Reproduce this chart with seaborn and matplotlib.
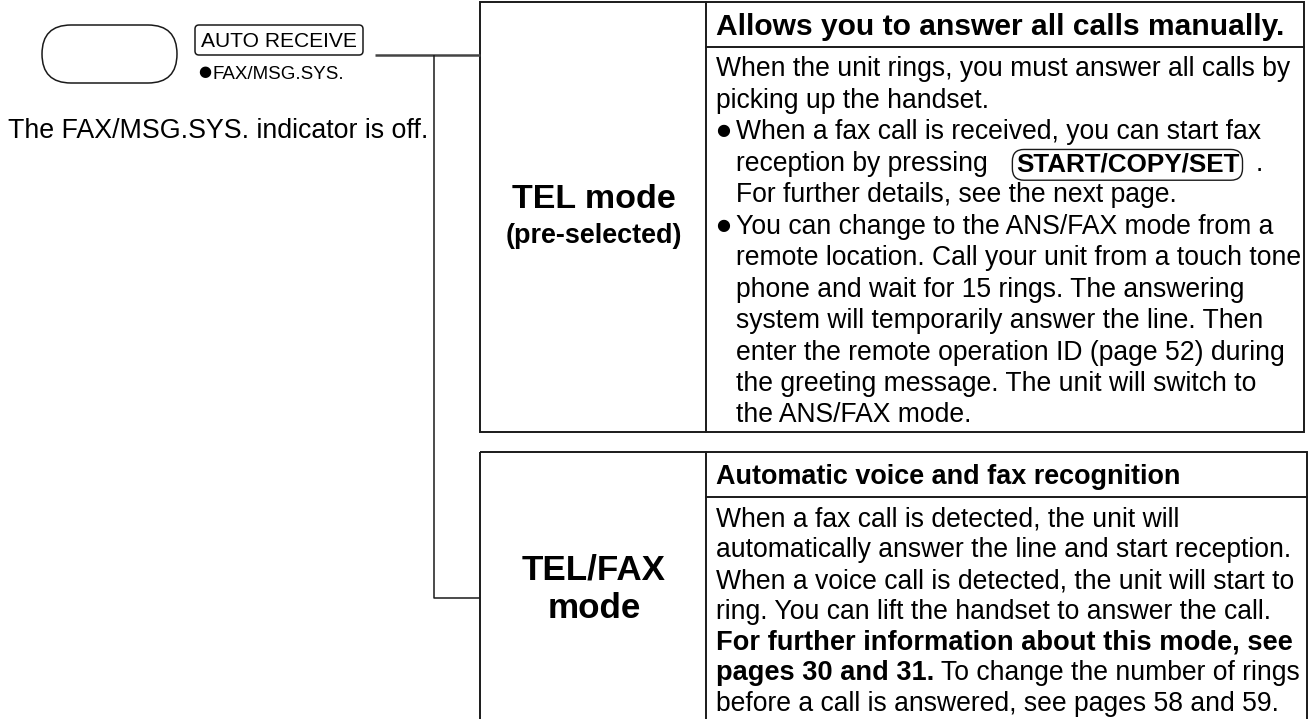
import matplotlib
matplotlib.use("Agg")
import matplotlib.pyplot as plt
import seaborn as sns
from matplotlib.patches import FancyBboxPatch, Rectangle

# ---------------- content ----------------
button_label = "AUTO RECEIVE"
indicator_label = "FAX/MSG.SYS."
status_text = "The FAX/MSG.SYS. indicator is off."

mode_titles = [["TEL mode", "(pre-selected)"], ["TEL/FAX", "mode"]]
headers = ["Allows you to answer all calls manually.",
           "Automatic voice and fax recognition"]

# each line: (kind, [(text, style), ...]); kind: plain / bullet / indent
tel_lines = [
    ("plain", [("When the unit rings, you must answer all calls by", "n")]),
    ("plain", [("picking up the handset.", "n")]),
    ("bullet", [("When a fax call is received, you can start fax", "n")]),
    ("indent", [("reception by pressing", "n"), ("START/COPY/SET", "key"), (".", "n")]),
    ("indent", [("For further details, see the next page.", "n")]),
    ("bullet", [("You can change to the ANS/FAX mode from a", "n")]),
    ("indent", [("remote location. Call your unit from a touch tone", "n")]),
    ("indent", [("phone and wait for 15 rings. The answering", "n")]),
    ("indent", [("system will temporarily answer the line. Then", "n")]),
    ("indent", [("enter the remote operation ID (page 52) during", "n")]),
    ("indent", [("the greeting message. The unit will switch to", "n")]),
    ("indent", [("the ANS/FAX mode.", "n")]),
]
telfax_lines = [
    ("plain", [("When a fax call is detected, the unit will", "n")]),
    ("plain", [("automatically answer the line and start reception.", "n")]),
    ("plain", [("When a voice call is detected, the unit will start to", "n")]),
    ("plain", [("ring. You can lift the handset to answer the call.", "n")]),
    ("plain", [("For further information about this mode, see", "b")]),
    ("plain", [("pages 30 and 31.", "b"), (" To change the number of rings", "n")]),
    ("plain", [("before a call is answered, see pages 58 and 59.", "n")]),
]

# ---------------- figure ----------------
sns.set_theme(style="white")
plt.rcParams["font.family"] = ["Liberation Sans", "DejaVu Sans"]

W, H, DPI = 1313, 719, 100
PT = 72.0 / DPI  # points per pixel

fig = plt.figure(figsize=(W / DPI, H / DPI), dpi=DPI)
ax = fig.add_axes([0, 0, 1, 1])
ax.set_xlim(0, W)
ax.set_ylim(H, 0)
ax.axis("off")

LC = "#1a1a1a"
LW = 1.4
DOT = dict(family=["DejaVu Sans"], color="black")

# left panel: button drawing
ax.add_patch(FancyBboxPatch((42, 25), 135, 58, boxstyle="round,pad=0,rounding_size=29",
                            fc="white", ec=LC, lw=1.1))
ax.add_patch(FancyBboxPatch((195, 25), 168, 30, boxstyle="round,pad=0,rounding_size=4",
                            fc="white", ec=LC, lw=1.1))
ax.text(279, 47, button_label, ha="center", va="baseline", fontsize=21 * PT, color="black")
ax.text(198, 72, "\u25CF", ha="left", va="center", fontsize=15 * PT, **DOT)
ax.text(212, 79, indicator_label, ha="left", va="baseline", fontsize=18.8 * PT, color="black")
ax.text(8, 138, status_text, ha="left", va="baseline", fontsize=26.8 * PT, color="black")

# connector lines
ax.plot([375, 480], [55, 55], color="#444444", lw=1.8, solid_capstyle="butt")
ax.plot([434, 434, 480], [55, 598, 598], color=LC, lw=1.1, solid_capstyle="butt")

# boxes
BX0, BCOL = 480, 706
boxes = [dict(top=2, hdr=47, bottom=432, right=1304),
         dict(top=452, hdr=497, bottom=760, right=1307)]
for b in boxes:
    ax.add_patch(Rectangle((BX0, b["top"]), b["right"] - BX0, b["bottom"] - b["top"],
                           fill=False, ec=LC, lw=LW))
    ax.plot([BCOL, BCOL], [b["top"], b["bottom"]], color=LC, lw=LW)
    ax.plot([BCOL, b["right"]], [b["hdr"], b["hdr"]], color=LC, lw=LW)

# mode titles
title_specs = [[(196, 34), (233, 27)], [(567, 35), (605, 35)]]
for titles, specs in zip(mode_titles, title_specs):
    for t, (yc, fs) in zip(titles, specs):
        ax.text(594, yc + 0.358 * fs, t, ha="center", va="baseline", fontsize=fs * PT,
                fontweight="bold", color="black")

# headers
hdr_specs = [(24, 30), (474, 27)]
for h, (yc, fs) in zip(headers, hdr_specs):
    ax.text(716, yc + 0.358 * fs, h, ha="left", va="baseline", fontsize=fs * PT,
            fontweight="bold", color="black")

# body text
BFS = 26.5
BOLD_FS = 27.3


def draw_lines(lines, y0, spacing):
    for i, (kind, segs) in enumerate(lines):
        yc = y0 + i * spacing
        yb = yc + 0.358 * BFS
        if kind == "bullet":
            ax.text(716, yc + 1, "\u25CF", ha="left", va="center", fontsize=16 * PT, **DOT)
        x = 716 if kind == "plain" else 736
        prev = None
        for text, style in segs:
            kw = dict(color="black")
            if style == "n":
                kw.update(fontsize=BFS * PT, fontweight="normal")
            elif style == "b":
                kw.update(fontsize=BOLD_FS * PT, fontweight="bold")
            else:
                kw.update(fontsize=26 * PT, fontweight="bold",
                          bbox=dict(boxstyle="round,pad=0.13,rounding_size=0.45",
                                    fc="white", ec=LC, lw=1.0))
            if prev is None:
                prev = ax.text(x, yb, text, ha="left", va="baseline", **kw)
            else:
                dx = 0
                if style == "key":
                    dx = 28 * PT
                elif prev.get_bbox_patch() is not None:
                    dx = 16 * PT
                prev = ax.annotate(text, xy=(1, 0), xycoords=prev,
                                   xytext=(dx, 0), textcoords="offset points",
                                   ha="left", va="bottom", **kw)


draw_lines(tel_lines, 67, 31.45)
draw_lines(telfax_lines, 517, 30.8)

fig.savefig("out.png", dpi=DPI, facecolor="white")
